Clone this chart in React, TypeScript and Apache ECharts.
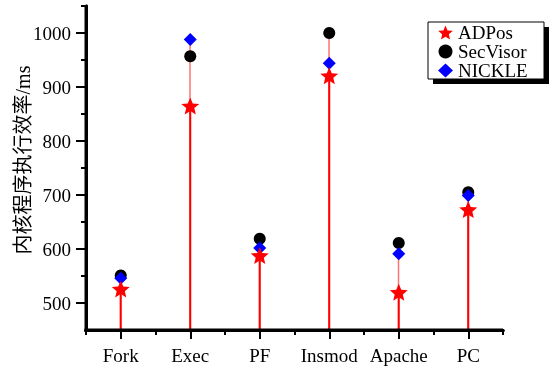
import { useEffect, useRef } from "react";
import * as echarts from "echarts";

const categories = ["Fork", "Exec", "PF", "Insmod", "Apache", "PC"];
const adpos = [526, 865, 588, 921, 520, 673];
const secvisor = [551, 957, 619, 1000, 611, 705];
const nickle = [546, 988, 602, 944, 591, 699];
const yLabelValues = [500, 600, 700, 800, 900, 1000];
const yMinorValues = [550, 650, 750, 850, 950, 1050];
const yMin = 450;
const yMax = 1050;
const yTitle = "内核程序执行效率/ms";

const STAR =
  "path://M0,-1L0.2645,-0.364L0.951,-0.309L0.428,0.139L0.588,0.809L0,0.45L-0.588,0.809L-0.428,0.139L-0.951,-0.309L-0.2645,-0.364Z";
const FONT = "'Liberation Serif', 'Times New Roman', serif";

const W = 550;
const H = 369;
const GRID = { left: 86, top: 6, right: 47, bottom: 39 };
const LINE = { show: true, onZero: false, lineStyle: { color: "#000", width: 3 } };

export default function App() {
  const ref = useRef<HTMLDivElement>(null);
  useEffect(() => {
    if (!ref.current) return;
    const chart = echarts.init(ref.current, null, { renderer: "svg" });
    const stemTop = categories.map((_, i) => Math.max(adpos[i], secvisor[i], nickle[i]));
    const centers = categories.map((_, i) => i + 1);
    const bounds = [0.5, ...categories.map((_, i) => i + 1.5)];
    const gx0 = GRID.left;
    const gx1 = W - GRID.right;
    const gy0 = GRID.top;
    const gy1 = H - GRID.bottom;
    chart.setOption({
      animation: false,
      grid: GRID,
      xAxis: [
        {
          type: "category",
          data: categories,
          boundaryGap: true,
          axisLine: LINE,
          axisTick: { show: false },
          axisLabel: { color: "#000", fontSize: 19, fontFamily: FONT, margin: 16, interval: 0 },
          splitLine: { show: false },
        },
        {
          type: "value",
          min: 0.5,
          max: 6.5,
          position: "bottom",
          axisLine: LINE,
          axisTick: { show: true, customValues: centers, length: 9, lineStyle: { color: "#000", width: 2 } },
          axisLabel: { show: false, customValues: centers },
          splitLine: { show: false },
        },
        {
          type: "value",
          min: 0.5,
          max: 6.5,
          position: "bottom",
          axisLine: LINE,
          axisTick: { show: true, customValues: bounds, length: 5, lineStyle: { color: "#000", width: 2 } },
          axisLabel: { show: false, customValues: bounds },
          splitLine: { show: false },
        },
      ],
      yAxis: [
        {
          type: "value",
          min: yMin,
          max: yMax,
          position: "left",
          axisLine: LINE,
          axisTick: { show: true, customValues: yLabelValues, length: 10, lineStyle: { color: "#000", width: 2 } },
          axisLabel: {
            color: "#000",
            fontSize: 19,
            fontFamily: FONT,
            margin: 15,
            customValues: yLabelValues,
            formatter: (v: number) => String(v),
          },
          splitLine: { show: false },
        },
        {
          type: "value",
          min: yMin,
          max: yMax,
          position: "left",
          axisLine: LINE,
          axisTick: { show: true, customValues: yMinorValues, length: 5, lineStyle: { color: "#000", width: 2 } },
          axisLabel: { show: false, customValues: yMinorValues },
          splitLine: { show: false },
        },
      ],
      legend: {
        data: ["ADPos", "SecVisor", "NICKLE"],
        orient: "vertical",
        left: 428,
        top: 22,
        padding: [1, 0, 0, 10],
        itemWidth: 15,
        itemHeight: 14,
        itemGap: 0,
        textStyle: { color: "#000", fontSize: 19, lineHeight: 19, fontFamily: FONT },
      },
      graphic: [
        {
          type: "line",
          shape: { x1: gx0, y1: gy0, x2: gx0, y2: gy1 + 1.5 },
          style: { stroke: "#000", lineWidth: 3 },
          z: 10,
        },
        {
          type: "line",
          shape: { x1: gx0 - 1.5, y1: gy1, x2: gx1, y2: gy1 },
          style: { stroke: "#000", lineWidth: 3 },
          z: 10,
        },
        {
          type: "rect",
          shape: { x: 433, y: 27, width: 116, height: 57 },
          style: { fill: "#000" },
          z: 0,
        },
        {
          type: "rect",
          shape: { x: 428, y: 22, width: 116, height: 57 },
          style: { fill: "#fff", stroke: "#000", lineWidth: 1 },
          z: 1,
        },
        {
          type: "text",
          x: 23,
          y: 160,
          rotation: Math.PI / 2,
          style: {
            text: yTitle,
            fill: "#000",
            font: `20px 'Liberation Serif', 'Noto Sans CJK SC', serif`,
            align: "center",
            verticalAlign: "middle",
          },
        },
      ],
      series: [
        {
          name: "stemTop",
          type: "bar",
          data: stemTop,
          barWidth: 1.5,
          barGap: "-100%",
          itemStyle: { color: "rgba(255,0,0,0.55)" },
          silent: true,
          z: 1,
        },
        {
          name: "stemMain",
          type: "bar",
          data: adpos,
          barWidth: 2,
          barGap: "-100%",
          itemStyle: { color: "#ff0000" },
          silent: true,
          z: 1,
        },
        {
          name: "SecVisor",
          type: "scatter",
          data: secvisor,
          symbol: "circle",
          symbolSize: 12,
          itemStyle: { color: "#000", opacity: 1 },
          z: 2,
        },
        {
          name: "NICKLE",
          type: "scatter",
          data: nickle,
          symbol: "diamond",
          symbolSize: [13, 13],
          itemStyle: { color: "#0000ff", opacity: 1 },
          z: 3,
        },
        {
          name: "ADPos",
          type: "scatter",
          data: adpos,
          symbol: STAR,
          symbolSize: [18, 17],
          itemStyle: { color: "#ff0000", opacity: 1 },
          z: 4,
        },
      ],
    });
    return () => chart.dispose();
  }, []);
  return <div ref={ref} style={{ position: "fixed", left: 0, top: 0, width: W, height: H }} />;
}
